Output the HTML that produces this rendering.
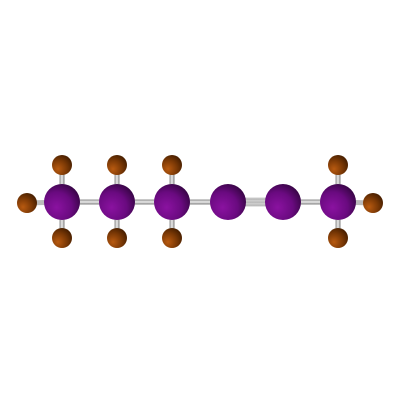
<!DOCTYPE html>
<html><head><meta charset="utf-8"><style>body{margin:0;background:#fff}svg{display:block}</style></head>
<body>
<svg id="mol" width="400" height="400" viewBox="0 0 400 400">
<defs>
<radialGradient id="gc" cx="0.35" cy="0.65" r="0.7"><stop offset="0" stop-color="#8a12a0"/><stop offset="0.6" stop-color="#6a0a80"/><stop offset="1" stop-color="#3a0548"/></radialGradient>
<radialGradient id="gh" cx="0.3" cy="0.7" r="0.75"><stop offset="0" stop-color="#b85a10"/><stop offset="0.6" stop-color="#7a3805"/><stop offset="1" stop-color="#4a2000"/></radialGradient>
<linearGradient id="bh" x1="0" y1="0" x2="0" y2="1"><stop offset="0" stop-color="#888"/><stop offset="0.5" stop-color="#eee"/><stop offset="1" stop-color="#777"/></linearGradient>
<linearGradient id="bv" x1="0" y1="0" x2="1" y2="0"><stop offset="0" stop-color="#888"/><stop offset="0.5" stop-color="#eee"/><stop offset="1" stop-color="#777"/></linearGradient>
</defs>
<g id="bonds"></g><g id="atoms"></g>
</svg>
<script>
const carbonX=[62,117,172,228,283,338];
const carbonY=202;
const hydrogens=[[62,165],[62,238],[27,203],[117,165],[117,238],[172,165],[172,238],[338,165],[338,238],[373,203]];
const hydParent=[0,0,0,1,1,2,2,5,5,5];
const NS='http://www.w3.org/2000/svg';
const bonds=document.getElementById('bonds'),atoms=document.getElementById('atoms');
function line(x1,y1,x2,y2,w){const l=document.createElementNS(NS,'rect');
 if(y1===y2){l.setAttribute('x',Math.min(x1,x2));l.setAttribute('y',y1-w/2);l.setAttribute('width',Math.abs(x2-x1));l.setAttribute('height',w);l.setAttribute('fill','url(#bh)');}
 else if(x1===x2){l.setAttribute('x',x1-w/2);l.setAttribute('y',Math.min(y1,y2));l.setAttribute('width',w);l.setAttribute('height',Math.abs(y2-y1));l.setAttribute('fill','url(#bv)');}
 else{const p=document.createElementNS(NS,'line');p.setAttribute('x1',x1);p.setAttribute('y1',y1);p.setAttribute('x2',x2);p.setAttribute('y2',y2);p.setAttribute('stroke','#bbb');p.setAttribute('stroke-width',w);bonds.appendChild(p);
 
 return;}
 
 
 bonds.appendChild(l);}
for(let i=0;i<carbonX.length-1;i++){
 if(i===3){for(const dy of [-3,0,3]) line(carbonX[i],carbonY+dy,carbonX[i+1],carbonY+dy,2.4);}
 else line(carbonX[i],carbonY,carbonX[i+1],carbonY,5);}
hydrogens.forEach((h,i)=>{line(carbonX[hydParent[i]],carbonY,h[0],h[1],5);});
hydrogens.forEach(h=>{const c=document.createElementNS(NS,'circle');c.setAttribute('cx',h[0]);c.setAttribute('cy',h[1]);c.setAttribute('r',10);c.setAttribute('fill','url(#gh)');
 
 
 atoms.appendChild(c);});
carbonX.forEach(x=>{const c=document.createElementNS(NS,'circle');c.setAttribute('cx',x);c.setAttribute('cy',carbonY);c.setAttribute('r',18);c.setAttribute('fill','url(#gc)');
 
 
 atoms.appendChild(c);});
</script>
</body></html>
